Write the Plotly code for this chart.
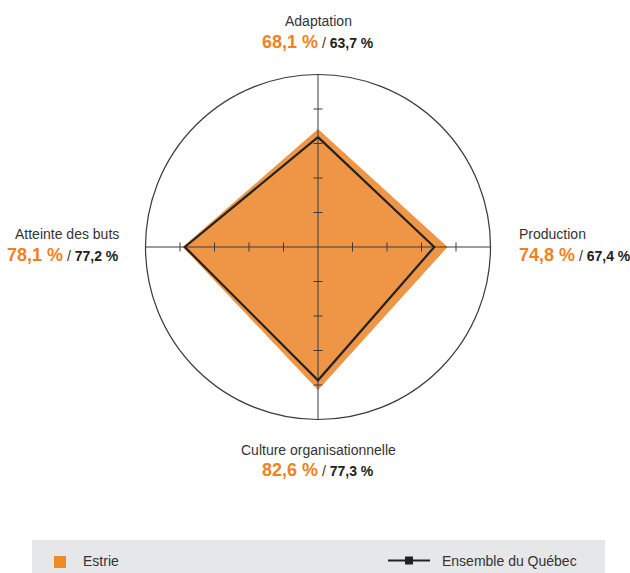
import math
import plotly.graph_objects as go

# ---- data ----
categories = ["Adaptation", "Production", "Culture organisationnelle", "Atteinte des buts"]
estrie = [68.1, 74.8, 82.6, 78.1]
quebec = [63.7, 67.4, 77.3, 77.2]
estrie_labels = ["68,1 %", "74,8 %", "82,6 %", "78,1 %"]
quebec_labels = ["63,7 %", "67,4 %", "77,3 %", "77,2 %"]
series_names = ["Estrie", "Ensemble du Québec"]
radial_ticks = [20, 40, 60, 80]
angles = [90, 0, 270, 180]  # direction of each category axis

W, H = 630, 573
ORANGE_FILL = "#EE9646"
ORANGE_TXT = "#F0821E"
DARK = "#222222"
AXIS = "#3a3a3a"
FONT = "Liberation Sans, Arial, sans-serif"


def px(x):
    return x / W


def py(y):
    return 1 - y / H


fig = go.Figure()

# Estrie filled area
fig.add_trace(go.Scatterpolar(
    r=estrie + [estrie[0]], theta=angles + [angles[0]],
    mode="lines", fill="toself", fillcolor=ORANGE_FILL,
    line=dict(color=ORANGE_FILL, width=1), name=series_names[0],
    hoverinfo="skip", showlegend=False))

# axis lines (above fill)
for a in angles:
    fig.add_trace(go.Scatterpolar(
        r=[0, 100], theta=[a, a], mode="lines",
        line=dict(color=AXIS, width=1), hoverinfo="skip", showlegend=False))

# tick marks crossing each axis
half = 2.6
for a in angles:
    for t in radial_ticks:
        rr = math.hypot(t, half)
        d = math.degrees(math.atan2(half, t))
        fig.add_trace(go.Scatterpolar(
            r=[rr, rr], theta=[a - d, a + d], mode="lines",
            line=dict(color=AXIS, width=1), hoverinfo="skip", showlegend=False))

# Quebec line
fig.add_trace(go.Scatterpolar(
    r=quebec + [quebec[0]], theta=angles + [angles[0]],
    mode="lines", line=dict(color=DARK, width=2.2), name=series_names[1],
    hoverinfo="skip", showlegend=False))

fig.update_layout(
    width=W, height=H,
    margin=dict(l=0, r=0, t=0, b=0),
    paper_bgcolor="white",
    font=dict(family=FONT, color="#333333"),
    showlegend=False,
    polar=dict(
        domain=dict(x=[px(145.5), px(490.5)], y=[py(419.5), py(74.5)]),
        bgcolor="white",
        radialaxis=dict(visible=False, range=[0, 100]),
        angularaxis=dict(
            showline=True, linecolor=AXIS, linewidth=1.2,
            showgrid=False, showticklabels=False, ticks="",
            rotation=0, direction="counterclockwise"),
    ),
)


def value_text(i):
    return (f"<b><span style='color:{ORANGE_TXT};font-size:18px'>{estrie_labels[i]}</span></b>"
            f"<span style='color:#333333;font-size:14px'> / </span>"
            f"<b><span style='color:#222222;font-size:14px'>{quebec_labels[i]}</span></b>")


label_pos = [
    # (x, y_name, y_value, xanchor)
    (318, 21, 42, "center"),
    (517, 234, 255, "left"),
    (318, 450, 470, "center"),
    (121, 234, 255, "right"),
]
for i, (x, yn, yv, xa) in enumerate(label_pos):
    fig.add_annotation(x=px(x), y=py(yn), xref="paper", yref="paper",
                       text=categories[i], showarrow=False, xanchor=xa, yanchor="middle",
                       font=dict(size=14, color="#333333", family=FONT))
    fig.add_annotation(x=px(x), y=py(yv), xref="paper", yref="paper",
                       text=value_text(i), showarrow=False, xanchor=xa, yanchor="middle",
                       font=dict(size=14, family=FONT))

# legend band
fig.add_shape(type="rect", xref="paper", yref="paper",
              x0=px(32), x1=px(605), y0=py(573), y1=py(540),
              fillcolor="#E6E7E8", line=dict(width=0), layer="below")
fig.add_shape(type="rect", xref="paper", yref="paper",
              x0=px(54), x1=px(66), y0=py(568), y1=py(556),
              fillcolor="#F08A24", line=dict(width=0))
fig.add_annotation(x=px(81), y=py(561), xref="paper", yref="paper", text=series_names[0],
                   showarrow=False, xanchor="left", yanchor="middle",
                   font=dict(size=14, color="#333333", family=FONT))
fig.add_shape(type="line", xref="paper", yref="paper",
              x0=px(388), x1=px(430), y0=py(560.5), y1=py(560.5),
              line=dict(color=DARK, width=2.2))
fig.add_shape(type="rect", xref="paper", yref="paper",
              x0=px(405), x1=px(413), y0=py(564.5), y1=py(556.5),
              fillcolor=DARK, line=dict(width=0))
fig.add_annotation(x=px(440), y=py(561), xref="paper", yref="paper", text=series_names[1],
                   showarrow=False, xanchor="left", yanchor="middle",
                   font=dict(size=14, color="#333333", family=FONT))

fig.write_html("out.html", config={"displayModeBar": False},
               post_script="document.body.style.margin='0';document.body.style.overflow='hidden';")
